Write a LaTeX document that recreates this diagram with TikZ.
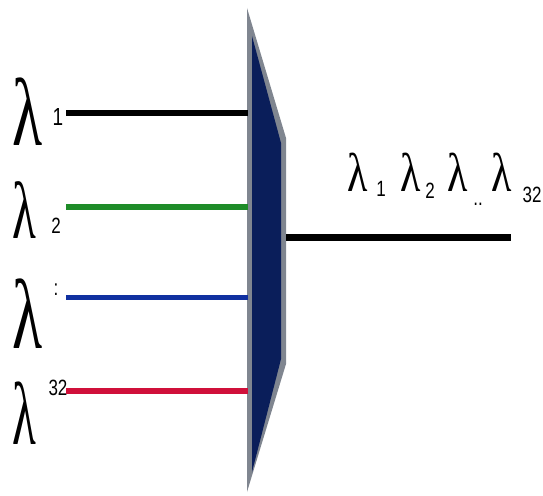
\documentclass[tikz,border=0pt]{standalone}
\usepackage{fontspec}
\setmainfont{Liberation Serif}
\newfontfamily\subfont{Liberation Sans}
\definecolor{navy}{RGB}{10,30,90}
\definecolor{edgegray}{RGB}{128,134,144}
\definecolor{lgreen}{RGB}{30,140,40}
\definecolor{lblue}{RGB}{16,48,160}
\definecolor{lred}{RGB}{208,16,58}
\begin{document}
\begin{tikzpicture}[x=1pt,y=-1pt,
  biglam/.style={inner sep=0pt,font=\fontsize{62}{62}\selectfont,yscale=1.55},
  midlam/.style={inner sep=0pt,font=\fontsize{49}{49}\selectfont,yscale=1.65},
  smalllam/.style={inner sep=0pt,font=\fontsize{42}{42}\selectfont,yscale=1.3},
  sub/.style={inner sep=0pt,font=\subfont\fontsize{17}{17}\selectfont,yscale=1.3},
  wave/.style={line width=6pt}]
\useasboundingbox (0,0) rectangle (543,495);
% multiplexer body
\fill[edgegray] (247,8) -- (286,138) -- (286,364) -- (247,492) -- cycle;
\fill[navy] (252,36) -- (281,143) -- (281,359) -- (252,472) -- cycle;
\coordinate (m1) at (248,113);
\coordinate (m2) at (248,207);
\coordinate (m3) at (248,297);
\coordinate (m4) at (248,391);
\coordinate (mo) at (286,237);
\coordinate (out) at (511,237);
% input labels
\node[biglam] (l1) at (28,112) {λ};
\node[sub,font=\subfont\fontsize{19}{19}\selectfont] (s1) at (58,117) {1};
\node[midlam] (l2) at (24,210) {λ};
\node[sub] (s2) at (56,226) {2};
\node[biglam,yscale=1.03] (l3) at (28,314) {λ};
\node[sub] (s3) at (56,290) {:};
\node[midlam,yscale=1.1] (l4) at (24,413) {λ};
\node[sub] (s4) at (58,388) {32};
% input wavelengths
\draw[wave,black] (66,113) coordinate (a1) -- (m1);
\draw[wave,lgreen] (66,207) coordinate (a2) -- (m2);
\draw[wave,lblue,line width=5pt] (66,297) coordinate (a3) -- (m3);
\draw[wave,lred] (66,391) coordinate (a4) -- (m4);
% output
\draw[line width=7pt,black] (mo) -- (out);
\node[smalllam] (o1) at (358,172) {λ};
\node[sub] (o1s) at (381,189) {1};
\node[smalllam] (o2) at (411,172) {λ};
\node[sub] (o2s) at (430,191) {2};
\node[smalllam] (o3) at (458,172) {λ};
\node[sub] (o3s) at (478,204) {..};
\node[smalllam] (o4) at (502,172) {λ};
\node[sub] (o4s) at (532,195) {32};
\end{tikzpicture}
\end{document}
